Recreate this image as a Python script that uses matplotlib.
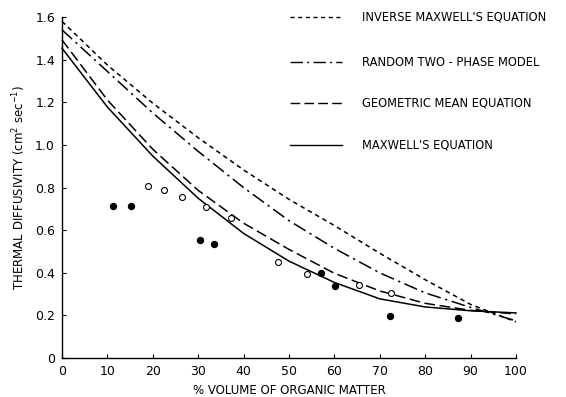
import matplotlib
matplotlib.use("Agg")
import matplotlib.pyplot as plt

# organic matter volume (%) for the model curves
pct = [0, 10, 20, 30, 40, 50, 60, 70, 80, 90, 100]

inverse_maxwell = [1.58, 1.375, 1.196, 1.034, 0.883, 0.745, 0.622, 0.492, 0.368, 0.252, 0.17]
random_two_phase = [1.54, 1.345, 1.15, 0.97, 0.80, 0.645, 0.515, 0.40, 0.306, 0.238, 0.175]
geometric_mean = [1.493, 1.211, 0.980, 0.787, 0.633, 0.51, 0.398, 0.315, 0.257, 0.224, 0.207]
maxwell = [1.454, 1.178, 0.948, 0.750, 0.585, 0.455, 0.355, 0.278, 0.24, 0.222, 0.212]

# measured points
open_x = [19.0, 22.5, 26.4, 31.8, 37.2, 47.6, 54.0, 65.5, 72.5]
open_y = [0.807, 0.79, 0.757, 0.707, 0.656, 0.449, 0.396, 0.343, 0.304]
filled_x = [11.2, 15.1, 30.4, 33.5, 57.0, 60.2, 72.2, 87.2]
filled_y = [0.712, 0.712, 0.554, 0.535, 0.398, 0.338, 0.197, 0.186]

xticks = [0, 10, 20, 30, 40, 50, 60, 70, 80, 90, 100]
yticks = [0, 0.2, 0.4, 0.6, 0.8, 1.0, 1.2, 1.4, 1.6]
ytick_labels = ['0', '0.2', '0.4', '0.6', '0.8', '1.0', '1.2', '1.4', '1.6']

series = [
    (inverse_maxwell, (0, (3, 2.5)), "INVERSE MAXWELL'S EQUATION"),
    (random_two_phase, (0, (9, 3, 1.5, 3)), "RANDOM TWO - PHASE MODEL"),
    (geometric_mean, (0, (7, 3)), "GEOMETRIC MEAN EQUATION"),
    (maxwell, '-', "MAXWELL'S EQUATION"),
]

fig = plt.figure(figsize=(5.66, 3.97), dpi=100)
ax = fig.add_axes([0.1095, 0.098, 0.802, 0.859])

for ys, ls, _ in series:
    ax.plot(pct, ys, color='black', lw=1.1, linestyle=ls, clip_on=False)

ax.plot(open_x, open_y, 'o', ms=4.3, mfc='white', mec='black', mew=0.8)
ax.plot(filled_x, filled_y, 'o', ms=4.3, mfc='black', mec='black')

ax.set_xlim(0, 100)
ax.set_ylim(0, 1.6)
ax.set_xticks(xticks)
ax.set_yticks(yticks)
ax.set_yticklabels(ytick_labels)
ax.tick_params(direction='in', length=3, width=0.8, labelsize=9, pad=5)
for s in ['top', 'right']:
    ax.spines[s].set_visible(False)
for s in ['left', 'bottom']:
    ax.spines[s].set_linewidth(1.0)

ax.set_xlabel('% VOLUME OF ORGANIC MATTER', fontsize=8.5, labelpad=4)
ax.set_ylabel('THERMAL DIFFUSIVITY (cm$^2$ sec$^{-1}$)', fontsize=8.5, labelpad=5)

# legend drawn by hand in figure pixels
W, H = 566, 397
rows = [17, 62, 103, 145]
for (ys, ls, label), ry in zip(series, rows):
    yf = 1 - ry / H
    fig.add_artist(plt.Line2D([290 / W, 342 / W], [yf, yf], color='black',
                              lw=1.0, linestyle=ls, transform=fig.transFigure))
    fig.text(362 / W, yf, label, fontsize=8.3, va='center', ha='left')

fig.savefig('out.png', dpi=100, facecolor='white')
